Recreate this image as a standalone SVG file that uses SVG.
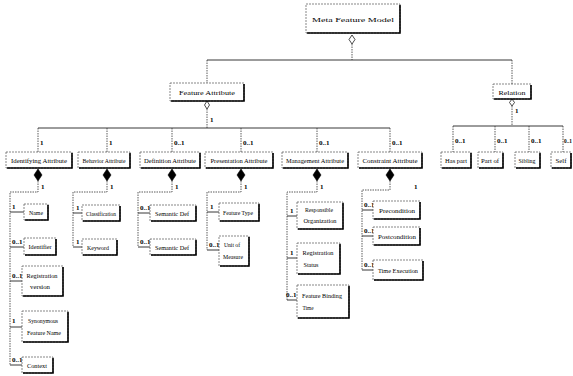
<svg xmlns="http://www.w3.org/2000/svg" width="573" height="376" viewBox="0 0 573 376">
<style>
.box{fill:#fff;stroke:#555;stroke-width:0.7;stroke-dasharray:2 1}
.sh{fill:none;stroke:#000;stroke-width:1.6}
.ln{fill:none;stroke:#222;stroke-width:0.9}
.dl{fill:none;stroke:#333;stroke-width:0.8;stroke-dasharray:1.5 1}
.t{font-family:"Liberation Serif",serif;font-size:7px;fill:#000;text-anchor:middle}
.m{font-family:"Liberation Serif",serif;font-size:7px;font-weight:bold;fill:#000}
.dia{fill:#000;stroke:#000;stroke-width:0.6}
.odia{fill:#fff;stroke:#000;stroke-width:0.7}
</style>
<rect width="573" height="376" fill="#fff"/>

<g id="connectors">
  <path class="dl" d="M352 44 V60" stroke="#aaa"/>
  <path class="ln" d="M207 60 H512"/>
  <path class="dl" d="M207 60 V83 M512 60 V84"/>
  <path class="odia" d="M352 35 L355 39.5 L352 44 L349 39.5 Z"/>
  <path class="dl" d="M207 109 V128 M512 106 V126"/>
  <path class="odia" d="M207 101 L209.5 105 L207 109 L204.5 105 Z"/>
  <path class="odia" d="M512 99 L514.5 102.5 L512 106 L509.5 102.5 Z"/>
  <text class="m" x="210" y="122">1</text>
  <text class="m" x="515" y="113">1</text>
  <path class="ln" d="M38 128 H390"/>
  <path class="dl" d="M38 128 V152 M107 128 V152 M172 128 V152 M241 128 V152 M317 128 V152 M390 128 V152"/>
  <text class="m" x="40" y="145">1</text>
  <text class="m" x="109" y="145">1</text>
  <text class="m" x="174" y="145">0..1</text>
  <text class="m" x="243" y="145">0..1</text>
  <text class="m" x="319" y="145">0..1</text>
  <text class="m" x="392" y="145">0..1</text>
  <path class="ln" d="M453 126 H563"/>
  <path class="dl" d="M453 126 V152 M495 126 V152 M529 126 V152 M563 126 V152"/>
  <text class="m" x="455" y="143">0..1</text>
  <text class="m" x="497" y="143">0..1</text>
  <text class="m" x="531" y="143">0..1</text>
  <text class="m" x="564" y="143" textLength="8" lengthAdjust="spacingAndGlyphs">0..1</text>

  <path class="dia" d="M38 169 L42 175 L38 181 L34 175 Z"/>
  <path class="dia" d="M107 169 L111 175 L107 181 L103 175 Z"/>
  <path class="dia" d="M172 169 L176 175 L172 181 L168 175 Z"/>
  <path class="dia" d="M241 169 L245 175 L241 181 L237 175 Z"/>
  <path class="dia" d="M317 169 L321 175 L317 181 L313 175 Z"/>
  <path class="dia" d="M390 169 L394 175 L390 181 L386 175 Z"/>
  <text class="m" x="41" y="189">1</text>
  <text class="m" x="110" y="189">1</text>
  <text class="m" x="175" y="189">1</text>
  <text class="m" x="244" y="189">1</text>
  <text class="m" x="320" y="189">1</text>
  <text class="m" x="414" y="189">1</text>

  <path class="dl" d="M38 181 V192 H10 V365"/>
  <path class="ln" d="M10 212 H24 M10 247 H24 M10 281 H22 M10 327 H22 M10 365 H22"/>
  <text class="m" x="12" y="209">1</text>
  <text class="m" x="12" y="244">0..1</text>
  <text class="m" x="12" y="278">0..1</text>
  <text class="m" x="12" y="323">1</text>
  <text class="m" x="12" y="362">0..1</text>

  <path class="dl" d="M107 181 V192 H73 V247"/>
  <path class="ln" d="M73 213 H82 M73 247 H82"/>
  <text class="m" x="76" y="210">1</text>
  <text class="m" x="76" y="244">1</text>

  <path class="dl" d="M172 181 V192 H138 V247"/>
  <path class="ln" d="M138 213 H150 M138 247 H150"/>
  <text class="m" x="140" y="210">0..1</text>
  <text class="m" x="140" y="244">0..1</text>

  <path class="dl" d="M241 181 V192 H207 V250"/>
  <path class="ln" d="M207 212 H219 M207 250 H219"/>
  <text class="m" x="210" y="209">1</text>
  <text class="m" x="209" y="247">0..1</text>

  <path class="dl" d="M317 181 V192 H287 V300"/>
  <path class="ln" d="M287 216 H297 M287 258 H297 M287 300 H297"/>
  <text class="m" x="290" y="213">1</text>
  <text class="m" x="290" y="255">1</text>
  <text class="m" x="286" y="297">0..1</text>

  <path class="dl" d="M390 181 V190 H362 V270"/>
  <path class="ln" d="M362 210 H373 M362 236 H373 M362 270 H373"/>
  <text class="m" x="364" y="207">0..1</text>
  <text class="m" x="364" y="233">0..1</text>
  <text class="m" x="364" y="267">0..1</text>
</g>

<g id="meta"><rect class="box" x="306" y="4" width="94" height="29"/><path class="sh" d="M307 33 H400 V5" stroke-width="2"/><text class="t" x="353" y="22" font-size="12" textLength="82" lengthAdjust="spacingAndGlyphs">Meta Feature Model</text></g>
<g id="featureAttribute"><rect class="box" x="170" y="83" width="74" height="18"/><path class="sh" d="M171 101 H244 V84"/><text class="t" x="207" y="95" font-size="9" textLength="56" lengthAdjust="spacingAndGlyphs">Feature Attribute</text></g>
<g id="relation"><rect class="box" x="493" y="84" width="38" height="15"/><path class="sh" d="M494 99 H531 V85"/><text class="t" x="512" y="95" font-size="8" textLength="27" lengthAdjust="spacingAndGlyphs">Relation</text></g>

<g id="identAttr"><rect class="box" x="6" y="152" width="66" height="16"/><path class="sh" d="M7 168 H72 V153"/><text class="t" x="39" y="163" textLength="56" lengthAdjust="spacingAndGlyphs">Identifying Attribute</text></g>
<g id="behavAttr"><rect class="box" x="78" y="152" width="52" height="16"/><path class="sh" d="M79 168 H130 V153"/><text class="t" x="104" y="163" textLength="43" lengthAdjust="spacingAndGlyphs">Behavior Attribute</text></g>
<g id="defAttr"><rect class="box" x="140" y="152" width="60" height="16"/><path class="sh" d="M141 168 H200 V153"/><text class="t" x="170" y="163" textLength="52" lengthAdjust="spacingAndGlyphs">Definition Attribute</text></g>
<g id="presAttr"><rect class="box" x="205" y="152" width="68" height="16"/><path class="sh" d="M206 168 H273 V153"/><text class="t" x="239" y="163" textLength="57" lengthAdjust="spacingAndGlyphs">Presentation Attribute</text></g>
<g id="mgmtAttr"><rect class="box" x="282" y="152" width="66" height="16"/><path class="sh" d="M283 168 H348 V153"/><text class="t" x="315" y="163" textLength="58" lengthAdjust="spacingAndGlyphs">Management Attribute</text></g>
<g id="consAttr"><rect class="box" x="358" y="152" width="64" height="16"/><path class="sh" d="M359 168 H422 V153"/><text class="t" x="390" y="163" textLength="55" lengthAdjust="spacingAndGlyphs">Constraint Attribute</text></g>

<g id="hasPart"><rect class="box" x="441" y="152" width="30" height="16"/><path class="sh" d="M442 168 H471 V153"/><text class="t" x="456" y="163" textLength="22" lengthAdjust="spacingAndGlyphs">Has part</text></g>
<g id="partOf"><rect class="box" x="478" y="152" width="25" height="16"/><path class="sh" d="M479 168 H503 V153"/><text class="t" x="490" y="163" textLength="18" lengthAdjust="spacingAndGlyphs">Part of</text></g>
<g id="sibling"><rect class="box" x="515" y="152" width="25" height="16"/><path class="sh" d="M516 168 H540 V153"/><text class="t" x="527" y="163" textLength="17" lengthAdjust="spacingAndGlyphs">Sibling</text></g>
<g id="self"><rect class="box" x="551" y="152" width="20" height="16"/><path class="sh" d="M552 168 H571 V153"/><text class="t" x="561" y="163" textLength="11" lengthAdjust="spacingAndGlyphs">Self</text></g>

<g id="name"><rect class="box" x="24" y="204" width="24" height="16"/><path class="sh" d="M25 220 H48 V205"/><text class="t" x="36" y="215" textLength="14" lengthAdjust="spacingAndGlyphs">Name</text></g>
<g id="identifier"><rect class="box" x="24" y="238" width="32" height="17"/><path class="sh" d="M25 255 H56 V239"/><text class="t" x="40" y="249" textLength="23" lengthAdjust="spacingAndGlyphs">Identifier</text></g>
<g id="regVersion"><rect class="box" x="22" y="266" width="41" height="30"/><path class="sh" d="M23 296 H63 V267"/><text class="t" x="42" y="278" textLength="31" lengthAdjust="spacingAndGlyphs">Registration</text><text class="t" x="40" y="289" textLength="20" lengthAdjust="spacingAndGlyphs">version</text></g>
<g id="synName"><rect class="box" x="22" y="311" width="46" height="31"/><path class="sh" d="M23 342 H68 V312"/><text class="t" x="43" y="323" textLength="30" lengthAdjust="spacingAndGlyphs">Synonymous</text><text class="t" x="44" y="335" textLength="34" lengthAdjust="spacingAndGlyphs">Feature Name</text></g>
<g id="context"><rect class="box" x="22" y="357" width="31" height="16"/><path class="sh" d="M23 373 H53 V358"/><text class="t" x="37" y="368" textLength="20" lengthAdjust="spacingAndGlyphs">Context</text></g>

<g id="classification"><rect class="box" x="82" y="205" width="38" height="16"/><path class="sh" d="M83 221 H120 V206"/><text class="t" x="101" y="216" textLength="30" lengthAdjust="spacingAndGlyphs">Classification</text></g>
<g id="keyword"><rect class="box" x="82" y="239" width="35" height="16"/><path class="sh" d="M83 255 H117 V240"/><text class="t" x="98" y="250" textLength="22" lengthAdjust="spacingAndGlyphs">Keyword</text></g>

<g id="semDef1"><rect class="box" x="150" y="205" width="46" height="16"/><path class="sh" d="M151 221 H196 V206"/><text class="t" x="172" y="216" textLength="34" lengthAdjust="spacingAndGlyphs">Semantic Def</text></g>
<g id="semDef2"><rect class="box" x="150" y="239" width="46" height="16"/><path class="sh" d="M151 255 H196 V240"/><text class="t" x="172" y="250" textLength="34" lengthAdjust="spacingAndGlyphs">Semantic Def</text></g>

<g id="featureType"><rect class="box" x="219" y="203" width="40" height="18"/><path class="sh" d="M220 221 H259 V204"/><text class="t" x="238" y="215" textLength="30" lengthAdjust="spacingAndGlyphs">Feature Type</text></g>
<g id="unitMeasure"><rect class="box" x="219" y="236" width="30" height="30"/><path class="sh" d="M220 266 H249 V237"/><text class="t" x="232" y="247" textLength="16" lengthAdjust="spacingAndGlyphs">Unit of</text><text class="t" x="233" y="259" textLength="20" lengthAdjust="spacingAndGlyphs">Measure</text></g>

<g id="respOrg"><rect class="box" x="297" y="202" width="46" height="27"/><path class="sh" d="M298 229 H343 V203"/><text class="t" x="319" y="212" textLength="28" lengthAdjust="spacingAndGlyphs">Responsible</text><text class="t" x="320" y="223" textLength="33" lengthAdjust="spacingAndGlyphs">Organization</text></g>
<g id="regStatus"><rect class="box" x="297" y="243" width="43" height="31"/><path class="sh" d="M298 274 H340 V244"/><text class="t" x="318" y="255" textLength="31" lengthAdjust="spacingAndGlyphs">Registration</text><text class="t" x="311" y="267" textLength="15" lengthAdjust="spacingAndGlyphs">Status</text></g>
<g id="bindTime"><rect class="box" x="297" y="285" width="52" height="33"/><path class="sh" d="M298 318 H349 V286"/><text class="t" x="322" y="298" textLength="40" lengthAdjust="spacingAndGlyphs">Feature Binding</text><text class="t" x="308" y="310" textLength="11" lengthAdjust="spacingAndGlyphs">Time</text></g>

<g id="precondition"><rect class="box" x="373" y="201" width="47" height="18"/><path class="sh" d="M374 219 H420 V202"/><text class="t" x="397" y="213" textLength="36" lengthAdjust="spacingAndGlyphs">Precondition</text></g>
<g id="postcondition"><rect class="box" x="373" y="227" width="47" height="18"/><path class="sh" d="M374 245 H420 V228"/><text class="t" x="397" y="239" textLength="38" lengthAdjust="spacingAndGlyphs">Postcondition</text></g>
<g id="timeExec"><rect class="box" x="373" y="260" width="50" height="20"/><path class="sh" d="M374 280 H423 V261"/><text class="t" x="398" y="273" textLength="40" lengthAdjust="spacingAndGlyphs">Time Execution</text></g>
</svg>
